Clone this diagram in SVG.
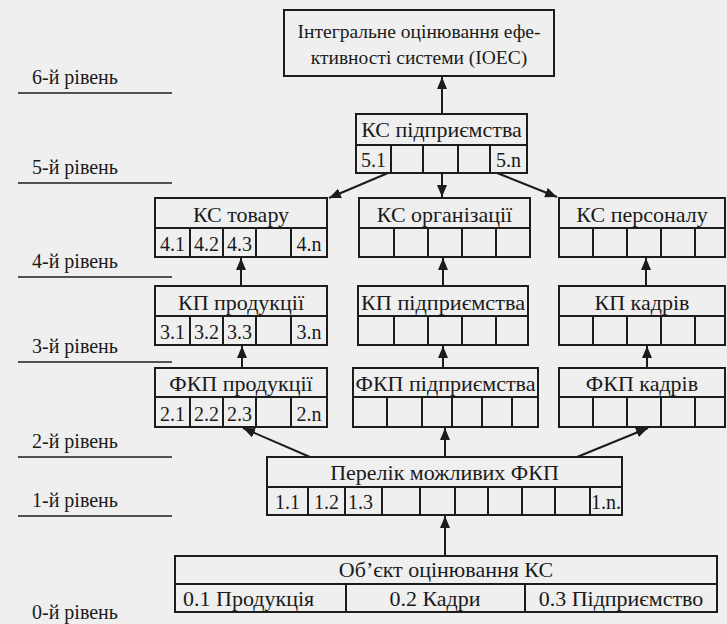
<svg xmlns="http://www.w3.org/2000/svg" width="727" height="624" viewBox="0 0 727 624">
<defs>
<marker id="ah" markerUnits="userSpaceOnUse" markerWidth="12" markerHeight="10" viewBox="0 0 12 10" refX="12" refY="5" orient="auto">
<path d="M0,0 L12,5 L0,10 z" fill="#1c1c1c"/>
</marker>
<style>
.box{fill:none;stroke:#1c1c1c;stroke-width:2}
.ln{stroke:#1c1c1c;stroke-width:2;fill:none}
.t{font-family:"Liberation Serif","Times New Roman",serif;font-size:22px;fill:#1a1a1a;text-anchor:middle}
.c{font-size:20px}
.s{text-anchor:start}
.lvl{font-family:"Liberation Serif","Times New Roman",serif;font-size:20px;fill:#1a1a1a}
.lvline{stroke:#1c1c1c;stroke-width:1.6}
.conn{stroke:#1c1c1c;stroke-width:2;fill:none;marker-end:url(#ah)}
</style>
</defs>
<rect x="0" y="0" width="727" height="624" fill="#efefef"/>

<g id="levels">
<text class="lvl" x="32" y="84">6-й рівень</text><line class="lvline" x1="18" y1="93" x2="172" y2="93"/>
<text class="lvl" x="32" y="174">5-й рівень</text><line class="lvline" x1="18" y1="183" x2="172" y2="183"/>
<text class="lvl" x="32" y="268">4-й рівень</text><line class="lvline" x1="18" y1="277" x2="172" y2="277"/>
<text class="lvl" x="32" y="353">3-й рівень</text><line class="lvline" x1="18" y1="362" x2="172" y2="362"/>
<text class="lvl" x="32" y="448">2-й рівень</text><line class="lvline" x1="18" y1="457" x2="172" y2="457"/>
<text class="lvl" x="32" y="507">1-й рівень</text><line class="lvline" x1="18" y1="516" x2="172" y2="516"/>
<text class="lvl" x="32" y="619">0-й рівень</text>
</g>

<g id="connectors">
<path class="conn" d="M442,114 L442,77"/>
<path class="conn" d="M388,173 L329,198"/>
<path class="conn" d="M442,173 L442,197"/>
<path class="conn" d="M497,173 L557,197"/>
<path class="conn" d="M241,286 L241,258"/>
<path class="conn" d="M443,286 L443,258"/>
<path class="conn" d="M646,286 L646,258"/>
<path class="conn" d="M242,368 L242,346"/>
<path class="conn" d="M443,368 L443,346"/>
<path class="conn" d="M647,368 L647,346"/>
<path class="conn" d="M310,457 L243,428"/>
<path class="conn" d="M445,457 L445,428"/>
<path class="conn" d="M577,457 L648,428"/>
<path class="conn" d="M445,556 L445,516"/>
</g>

<g id="ioes">
<rect class="box" x="284" y="10" width="270" height="66"/>
<text class="t" x="419" y="38" style="font-size:19.5px">Інтегральне оцінювання ефе-</text>
<text class="t" x="419" y="64" style="font-size:19.5px">ктивності системи (ІОЕС)</text>
</g>

<g id="ks-pidpryiemstva">
<rect class="box" x="356" y="114" width="171" height="59"/>
<path class="ln" d="M356,145 H527 M391,145 V173 M423,145 V173 M458,145 V173 M490,145 V173"/>
<text class="t" x="441.5" y="137">КС підприємства</text>
<text class="t c" x="373.5" y="167">5.1</text>
<text class="t c" x="508.5" y="167">5.n</text>
</g>

<g id="ks-tovaru">
<rect class="box" x="155" y="198" width="172" height="59"/>
<path class="ln" d="M155,228 H327 M190,228 V257 M223,228 V257 M256,228 V257 M291,228 V257"/>
<text class="t" x="241" y="222">КС товару</text>
<text class="t c" x="172.5" y="251">4.1</text>
<text class="t c" x="206.5" y="251">4.2</text>
<text class="t c" x="239.5" y="251">4.3</text>
<text class="t c" x="309" y="251">4.n</text>
</g>

<g id="ks-orhanizatsii">
<rect class="box" x="359" y="198" width="171" height="59"/>
<path class="ln" d="M359,228 H530 M394,228 V257 M428,228 V257 M462,228 V257 M496,228 V257"/>
<text class="t" x="444.5" y="222">КС організації</text>
</g>

<g id="ks-personalu">
<rect class="box" x="559" y="198" width="166" height="59"/>
<path class="ln" d="M559,228 H725 M593,228 V257 M627,228 V257 M661,228 V257 M695,228 V257"/>
<text class="t" x="642" y="222">КС персоналу</text>
</g>

<g id="kp-produktsii">
<rect class="box" x="155" y="286" width="172" height="59"/>
<path class="ln" d="M155,316 H327 M190,316 V345 M223,316 V345 M256,316 V345 M291,316 V345"/>
<text class="t" x="241" y="310">КП продукції</text>
<text class="t c" x="172.5" y="339">3.1</text>
<text class="t c" x="206.5" y="339">3.2</text>
<text class="t c" x="239.5" y="339">3.3</text>
<text class="t c" x="309" y="339">3.n</text>
</g>

<g id="kp-pidpryiemstva">
<rect class="box" x="358" y="286" width="170" height="59"/>
<path class="ln" d="M358,316 H528 M394,316 V345 M428,316 V345 M462,316 V345 M496,316 V345"/>
<text class="t" x="443" y="310" textLength="164" lengthAdjust="spacingAndGlyphs">КП підприємства</text>
</g>

<g id="kp-kadriv">
<rect class="box" x="559" y="286" width="166" height="59"/>
<path class="ln" d="M559,316 H725 M593,316 V345 M627,316 V345 M661,316 V345 M695,316 V345"/>
<text class="t" x="642" y="310">КП кадрів</text>
</g>

<g id="fkp-produktsii">
<rect class="box" x="155" y="368" width="172" height="59"/>
<path class="ln" d="M155,397 H327 M190,397 V427 M223,397 V427 M256,397 V427 M291,397 V427"/>
<text class="t" x="241" y="391">ФКП продукції</text>
<text class="t c" x="172.5" y="421">2.1</text>
<text class="t c" x="206.5" y="421">2.2</text>
<text class="t c" x="239.5" y="421">2.3</text>
<text class="t c" x="309" y="421">2.n</text>
</g>

<g id="fkp-pidpryiemstva">
<rect class="box" x="353" y="368" width="185" height="59"/>
<path class="ln" d="M353,397 H538 M387,397 V427 M422,397 V427 M452,397 V427 M482,397 V427 M512,397 V427"/>
<text class="t" x="445.5" y="391" textLength="180" lengthAdjust="spacingAndGlyphs">ФКП підприємства</text>
</g>

<g id="fkp-kadriv">
<rect class="box" x="559" y="368" width="166" height="59"/>
<path class="ln" d="M559,397 H725 M593,397 V427 M627,397 V427 M661,397 V427 M695,397 V427"/>
<text class="t" x="642" y="391">ФКП кадрів</text>
</g>

<g id="perelik-fkp">
<rect class="box" x="267" y="457" width="355" height="58"/>
<path class="ln" d="M267,487 H622 M308,487 V515 M345,487 V515 M382,487 V515 M420,487 V515 M455,487 V515 M488,487 V515 M522,487 V515 M555,487 V515 M590,487 V515"/>
<text class="t" x="444.5" y="480">Перелік можливих ФКП</text>
<text class="t c" x="287.5" y="509">1.1</text>
<text class="t c" x="326.5" y="509">1.2</text>
<text class="t c s" x="348" y="509">1.3</text>
<text class="t c" x="606" y="509">1.n.</text>
</g>

<g id="obiekt-otsinyuvannya">
<rect class="box" x="175" y="556" width="542" height="56"/>
<path class="ln" d="M175,584 H717 M346,584 V612 M525,584 V612"/>
<text class="t" x="446" y="577">Об’єкт оцінювання КС</text>
<text class="t s" x="183" y="606">0.1 Продукція</text>
<text class="t" x="435" y="606">0.2 Кадри</text>
<text class="t" x="621" y="606">0.3 Підприємство</text>
</g>
</svg>
